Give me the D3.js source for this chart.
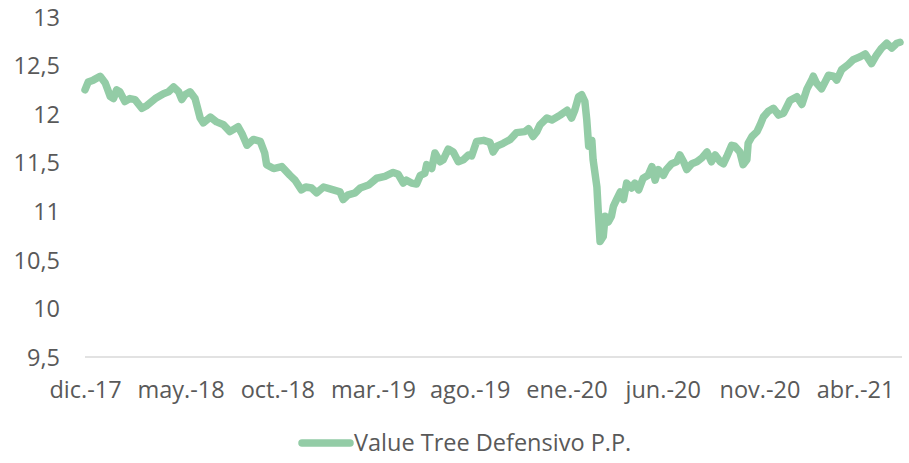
<!DOCTYPE html>
<html>
<head>
<meta charset="utf-8">
<script src="https://cdn.jsdelivr.net/npm/d3@7"></script>
<style>
  body { margin: 0; background: #fff; }
  #viz text { font-family: 'Open Sans', sans-serif; fill: #595959; }
</style>
</head>
<body>
<div id="viz"></div>
<script>
const seriesName = 'Value Tree Defensivo P.P.';

const dates = [
  '2017-12-01','2017-12-06','2017-12-14','2017-12-25','2018-01-02','2018-01-10','2018-01-15','2018-01-20',
  '2018-01-25','2018-02-02','2018-02-10','2018-02-18','2018-03-01','2018-03-09','2018-03-22','2018-04-04',
  '2018-04-12','2018-04-20','2018-04-28','2018-05-03','2018-05-08','2018-05-16','2018-05-24','2018-06-01',
  '2018-06-06','2018-06-17','2018-06-27','2018-07-08','2018-07-18','2018-07-31','2018-08-06','2018-08-14',
  '2018-08-24','2018-09-04','2018-09-11','2018-09-14','2018-09-25','2018-10-08','2018-10-21','2018-10-29',
  '2018-11-08','2018-11-15','2018-11-24','2018-12-02','2018-12-13','2018-12-23','2019-01-08','2019-01-13',
  '2019-01-21','2019-02-01','2019-02-09','2019-02-22','2019-03-07','2019-03-20','2019-04-02','2019-04-10',
  '2019-04-18','2019-04-23','2019-05-01','2019-05-09','2019-05-15','2019-05-22','2019-05-25','2019-06-02',
  '2019-06-07','2019-06-15','2019-06-20','2019-06-28','2019-07-06','2019-07-14','2019-07-22','2019-07-30',
  '2019-08-04','2019-08-12','2019-08-23','2019-09-02','2019-09-07','2019-09-13','2019-09-23','2019-10-04',
  '2019-10-14','2019-10-27','2019-11-02','2019-11-09','2019-11-15','2019-11-20','2019-12-01','2019-12-09',
  '2019-12-17','2019-12-22','2020-01-02','2020-01-09','2020-01-14','2020-01-20','2020-01-25','2020-01-30',
  '2020-02-02','2020-02-05','2020-02-10','2020-02-12','2020-02-18','2020-02-20','2020-02-23','2020-02-28',
  '2020-03-02','2020-03-07','2020-03-12','2020-03-15','2020-03-20','2020-03-26','2020-03-31','2020-04-05',
  '2020-04-13','2020-04-18','2020-04-24','2020-05-01','2020-05-09','2020-05-15','2020-05-20','2020-05-25',
  '2020-06-02','2020-06-07','2020-06-15','2020-06-23','2020-06-28','2020-07-04','2020-07-09','2020-07-17',
  '2020-07-25','2020-08-02','2020-08-10','2020-08-17','2020-08-23','2020-08-31','2020-09-05','2020-09-10',
  '2020-09-18','2020-09-23','2020-10-01','2020-10-06','2020-10-12','2020-10-14','2020-10-20','2020-10-28',
  '2020-11-02','2020-11-07','2020-11-15','2020-11-23','2020-12-01','2020-12-09','2020-12-19','2020-12-30',
  '2021-01-07','2021-01-15','2021-01-23','2021-01-25','2021-01-30','2021-02-07','2021-02-18','2021-02-26',
  '2021-03-03','2021-03-11','2021-03-21','2021-03-29','2021-04-09','2021-04-17','2021-04-27','2021-05-05',
  '2021-05-13','2021-05-21','2021-05-29','2021-06-06','2021-06-11'
];

const values = [
  12.25,12.33,12.35,12.39,12.32,12.18,12.16,12.25,
  12.23,12.13,12.16,12.15,12.06,12.09,12.16,12.21,
  12.23,12.28,12.23,12.15,12.20,12.23,12.16,11.96,
  11.91,11.97,11.92,11.89,11.82,11.87,11.80,11.68,
  11.74,11.72,11.60,11.48,11.44,11.46,11.37,11.32,
  11.22,11.25,11.24,11.19,11.25,11.23,11.20,11.12,
  11.17,11.19,11.24,11.27,11.34,11.36,11.40,11.38,
  11.29,11.32,11.29,11.28,11.37,11.39,11.48,11.44,
  11.60,11.51,11.53,11.64,11.61,11.51,11.53,11.58,
  11.57,11.72,11.73,11.71,11.61,11.67,11.70,11.74,
  11.81,11.82,11.85,11.77,11.82,11.89,11.96,11.94,
  11.97,11.99,12.04,11.96,12.04,12.18,12.20,12.13,
  11.94,11.67,11.73,11.53,11.25,11.01,10.69,10.74,
  10.95,10.89,10.95,11.05,11.12,11.20,11.12,11.29,
  11.24,11.29,11.22,11.34,11.37,11.46,11.32,11.43,
  11.37,11.43,11.49,11.51,11.58,11.51,11.43,11.49,
  11.51,11.55,11.61,11.51,11.58,11.51,11.49,11.56,
  11.68,11.67,11.61,11.48,11.53,11.70,11.77,11.82,
  11.89,11.97,12.03,12.06,11.99,12.01,12.14,12.18,
  12.10,12.26,12.36,12.39,12.32,12.26,12.40,12.39,
  12.35,12.46,12.51,12.56,12.59,12.62,12.52,12.61,
  12.68,12.73,12.68,12.73,12.74
];

const yTicks = [9.5, 10, 10.5, 11, 11.5, 12, 12.5, 13];
const xTickDates = ['2017-12-01','2018-05-01','2018-10-01','2019-03-01','2019-08-01','2020-01-01','2020-06-01','2020-11-01','2021-04-01'];
const xTickLabels = ['dic.-17','may.-18','oct.-18','mar.-19','ago.-19','ene.-20','jun.-20','nov.-20','abr.-21'];

const width = 909;
const height = 463;
const lineColor = '#93cca6';
const fontSize = '23.5px';
const parse = d3.timeParse('%Y-%m-%d');

const data = dates.map((d, i) => ({ date: parse(d), value: values[i] }));

const svg = d3.select('#viz')
  .append('svg')
  .attr('width', width)
  .attr('height', height);

const x = d3.scaleTime()
  .domain([parse(dates[0]), parse(dates[dates.length - 1])])
  .range([85, 900]);

const y = d3.scaleLinear()
  .domain([9.5, 13])
  .range([357, 17]);

// y axis: labels only
const yAxis = d3.axisLeft(y)
  .tickValues(yTicks)
  .tickSize(0)
  .tickPadding(0)
  .tickFormat(d => d3.format('.1~f')(d).replace('.', ','));

svg.append('g')
  .attr('transform', 'translate(60,0)')
  .call(yAxis)
  .call(g => g.select('.domain').remove())
  .selectAll('text')
  .style('font-size', fontSize)
  .attr('dy', '0.35em');

// baseline
svg.append('line')
  .attr('x1', 85)
  .attr('x2', 902)
  .attr('y1', y(9.5))
  .attr('y2', y(9.5))
  .attr('stroke', '#d9d9d9')
  .attr('stroke-width', 1.5);

const xAxis = d3.axisBottom(x)
  .tickValues(xTickDates.map(parse))
  .tickSize(0)
  .tickPadding(0)
  .tickFormat((d, i) => xTickLabels[i]);

svg.append('g')
  .attr('transform', 'translate(0,390)')
  .call(xAxis)
  .call(g => g.select('.domain').remove())
  .selectAll('text')
  .style('font-size', fontSize)
  .attr('dy', '0.35em');

const line = d3.line()
  .x(d => x(d.date))
  .y(d => y(d.value));

svg.append('path')
  .datum(data)
  .attr('fill', 'none')
  .attr('stroke', lineColor)
  .attr('stroke-width', 7.5)
  .attr('stroke-linejoin', 'round')
  .attr('stroke-linecap', 'round')
  .attr('d', line);

// legend
const legend = svg.append('g').attr('transform', 'translate(0,443)');
legend.append('line')
  .attr('x1', 302).attr('x2', 350)
  .attr('y1', 0).attr('y2', 0)
  .attr('stroke', lineColor)
  .attr('stroke-width', 7.5)
  .attr('stroke-linecap', 'round');
legend.append('text')
  .attr('x', 354)
  .attr('dy', '0.35em')
  .style('font-size', fontSize)
  .text(seriesName);
</script>
</body>
</html>
